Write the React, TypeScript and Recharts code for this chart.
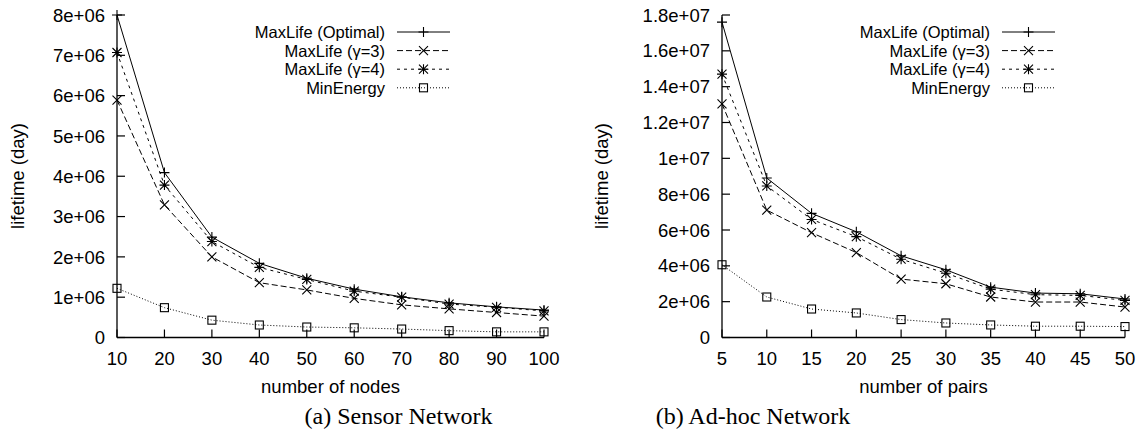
import { LineChart, Line, XAxis, YAxis, Legend } from 'recharts'

const NODES = [10, 20, 30, 40, 50, 60, 70, 80, 90, 100]
const SENSOR_OPTIMAL = [8.0e6, 4.09e6, 2.49e6, 1.84e6, 1.47e6, 1.2e6, 1.01e6, 0.86e6, 0.76e6, 0.68e6]
const SENSOR_G3 = [5.89e6, 3.29e6, 2.0e6, 1.36e6, 1.18e6, 0.97e6, 0.81e6, 0.71e6, 0.62e6, 0.53e6]
const SENSOR_G4 = [7.07e6, 3.78e6, 2.38e6, 1.74e6, 1.44e6, 1.15e6, 1.0e6, 0.83e6, 0.75e6, 0.66e6]
const SENSOR_MIN = [1.22e6, 0.74e6, 0.43e6, 0.31e6, 0.26e6, 0.24e6, 0.21e6, 0.17e6, 0.14e6, 0.14e6]
const SENSOR_Y_TICKS = [0, 1e6, 2e6, 3e6, 4e6, 5e6, 6e6, 7e6, 8e6]

const PAIRS = [5, 10, 15, 20, 25, 30, 35, 40, 45, 50]
const ADHOC_OPTIMAL = [17.6e6, 8.9e6, 6.93e6, 5.9e6, 4.56e6, 3.78e6, 2.81e6, 2.48e6, 2.44e6, 2.15e6]
const ADHOC_G3 = [13.04e6, 7.11e6, 5.85e6, 4.74e6, 3.26e6, 3.0e6, 2.26e6, 1.98e6, 1.98e6, 1.7e6]
const ADHOC_G4 = [14.7e6, 8.46e6, 6.59e6, 5.63e6, 4.37e6, 3.59e6, 2.7e6, 2.39e6, 2.35e6, 2.07e6]
const ADHOC_MIN = [4.06e6, 2.26e6, 1.59e6, 1.37e6, 1.0e6, 0.81e6, 0.7e6, 0.63e6, 0.63e6, 0.61e6]
const ADHOC_Y_TICKS = [0, 2e6, 4e6, 6e6, 8e6, 1e7, 1.2e7, 1.4e7, 1.6e7, 1.8e7]

const SERIES = [
  { key: 'opt', name: 'MaxLife (Optimal)', dash: undefined, mark: 'plus' },
  { key: 'g3', name: 'MaxLife (\u03b3=3)', dash: '6 3', mark: 'cross' },
  { key: 'g4', name: 'MaxLife (\u03b3=4)', dash: '3 4', mark: 'star' },
  { key: 'min', name: 'MinEnergy', dash: '1 2', mark: 'box' },
]

const FONT = '"Liberation Sans", Arial, sans-serif'
const FS = 18.5
const TICK = 8

const fmt = (v: number) => (v === 0 ? '0' : v.toExponential().replace(/e\+(\d)$/, 'e+0$1'))

function Mark({ kind, cx, cy }: { kind: string; cx: number; cy: number }) {
  if (cx == null || cy == null) return null
  if (kind === 'box') {
    return <rect x={cx - 4} y={cy - 4} width={8} height={8} fill="none" stroke="#000" strokeWidth={1.1} />
  }
  const p = 5, c = 4.5
  let d = ''
  if (kind === 'plus' || kind === 'star') d += `M${cx - p} ${cy}H${cx + p}M${cx} ${cy - p}V${cy + p}`
  if (kind === 'cross' || kind === 'star') d += `M${cx - c} ${cy - c}L${cx + c} ${cy + c}M${cx - c} ${cy + c}L${cx + c} ${cy - c}`
  return <path d={d} stroke="#000" strokeWidth={1.1} fill="none" />
}

function LegendBox() {
  return (
    <svg width={340} height={80} style={{ overflow: 'visible', display: 'block' }}>
      {SERIES.map((s, i) => {
        const y = 12 + i * 18.6
        return (
          <g key={s.key}>
            <text x={260} y={y} dy="0.36em" textAnchor="end" fontSize={16.5} fontFamily={FONT} fill="#000">{s.name}</text>
            <line x1={272} x2={325} y1={y} y2={y} stroke="#000" strokeWidth={1} strokeDasharray={s.dash} />
            <Mark kind={s.mark} cx={298.5} cy={y} />
          </g>
        )
      })}
    </svg>
  )
}

type PanelProps = {
  xs: number[]
  values: number[][]
  yTicks: number[]
  xTitle: string
  width: number
  yAxisWidth: number
  marginRight: number
  legendLeft: number
  yTitleX: number
}

function Panel({ xs, values, yTicks, xTitle, width, yAxisWidth, marginRight, legendLeft, yTitleX }: PanelProps) {
  const data = xs.map((x, i) => ({ x, opt: values[0][i], g3: values[1][i], g4: values[2][i], min: values[3][i] }))
  const yMax = yTicks[yTicks.length - 1]
  const xDomain = [xs[0], xs[xs.length - 1]]
  return (
    <LineChart width={width} height={431} data={data} margin={{ top: 15, right: marginRight, left: 0, bottom: 33.5 }}>
      <XAxis
        dataKey="x" type="number" domain={xDomain} ticks={xs} interval={0}
        height={60} tickSize={0} tickMargin={0} tickLine={false}
        axisLine={{ stroke: '#000', strokeWidth: 1.3 }}
        tick={(p: any) => (
          <g>
            <line x1={p.x} x2={p.x} y1={p.y} y2={p.y - TICK} stroke="#000" strokeWidth={1.2} />
            <text x={p.x} y={p.y + 21} dy="0.36em" textAnchor="middle" fontSize={FS} fontFamily={FONT} fill="#000">{p.payload.value}</text>
          </g>
        )}
        label={{
          content: (p: any) => (
            <text x={p.viewBox.x + p.viewBox.width / 2} y={386.7} dy="0.36em" textAnchor="middle" fontSize={FS} fontFamily={FONT} fill="#000">{xTitle}</text>
          ),
        }}
      />
      <XAxis
        xAxisId="top" orientation="top" type="number" domain={xDomain} ticks={xs} interval={0}
        height={0} tickSize={0} tickMargin={0} tickLine={false}
        axisLine={{ stroke: '#000', strokeWidth: 1.3 }}
        tick={(p: any) => <line x1={p.x} x2={p.x} y1={p.y} y2={p.y + TICK} stroke="#000" strokeWidth={1.2} />}
      />
      <YAxis
        type="number" domain={[0, yMax]} ticks={yTicks} interval={0}
        width={yAxisWidth} tickSize={0} tickMargin={0} tickLine={false}
        axisLine={{ stroke: '#000', strokeWidth: 1.3 }}
        tick={(p: any) => (
          <g>
            <line x1={p.x} x2={p.x + TICK} y1={p.y} y2={p.y} stroke="#000" strokeWidth={1.2} />
            <text x={p.x - 12} y={p.y} dy="0.36em" textAnchor="end" fontSize={FS} fontFamily={FONT} fill="#000">{fmt(p.payload.value)}</text>
          </g>
        )}
        label={{
          content: () => (
            <text x={yTitleX} y={176} dy="0.36em" textAnchor="middle" transform={`rotate(-90 ${yTitleX} 176)`} fontSize={FS} fontFamily={FONT} fill="#000">lifetime (day)</text>
          ),
        }}
      />
      <YAxis
        yAxisId="r" orientation="right" type="number" domain={[0, yMax]} ticks={yTicks} interval={0}
        width={0} tickSize={0} tickMargin={0} tickLine={false}
        axisLine={{ stroke: '#000', strokeWidth: 1.3 }}
        tick={(p: any) => <line x1={p.x} x2={p.x - TICK} y1={p.y} y2={p.y} stroke="#000" strokeWidth={1.2} />}
      />
      {SERIES.map(s => (
        <Line
          key={s.key} dataKey={s.key} name={s.name} type="linear" isAnimationActive={false}
          stroke="#000" strokeWidth={1} strokeDasharray={s.dash}
          dot={(p: any) => <Mark key={`${s.key}-${p.index}`} kind={s.mark} cx={p.cx} cy={p.cy} />}
          activeDot={false}
        />
      ))}
      <Legend
        layout="vertical" align="center" verticalAlign="middle"
        wrapperStyle={{ position: 'absolute', left: legendLeft, top: 20, width: 340, height: 80 }}
        content={() => <LegendBox />}
      />
    </LineChart>
  )
}

const CAPTION = { position: 'absolute' as const, top: 402, width: 300, textAlign: 'center' as const, fontFamily: '"Liberation Serif", "Times New Roman", serif', fontSize: 24, lineHeight: '28px', color: '#000' }

export default function App() {
  return (
    <div style={{ position: 'absolute', left: 0, top: 0, width: 1143, height: 431, background: '#fff', overflow: 'hidden' }}>
      <div style={{ position: 'absolute', left: 0, top: 0 }}>
        <Panel
          xs={NODES} values={[SENSOR_OPTIMAL, SENSOR_G3, SENSOR_G4, SENSOR_MIN]} yTicks={SENSOR_Y_TICKS}
          xTitle="number of nodes" width={571} yAxisWidth={117} marginRight={27} legendLeft={125} yTitleX={17}
        />
      </div>
      <div style={{ position: 'absolute', left: 571, top: 0 }}>
        <Panel
          xs={PAIRS} values={[ADHOC_OPTIMAL, ADHOC_G3, ADHOC_G4, ADHOC_MIN]} yTicks={ADHOC_Y_TICKS}
          xTitle="number of pairs" width={572} yAxisWidth={151} marginRight={18} legendLeft={159} yTitleX={30.7}
        />
      </div>
      <div style={{ ...CAPTION, left: 398.5 - 150 }}>(a) Sensor Network</div>
      <div style={{ ...CAPTION, left: 753 - 150 }}>(b) Ad-hoc Network</div>
    </div>
  )
}
